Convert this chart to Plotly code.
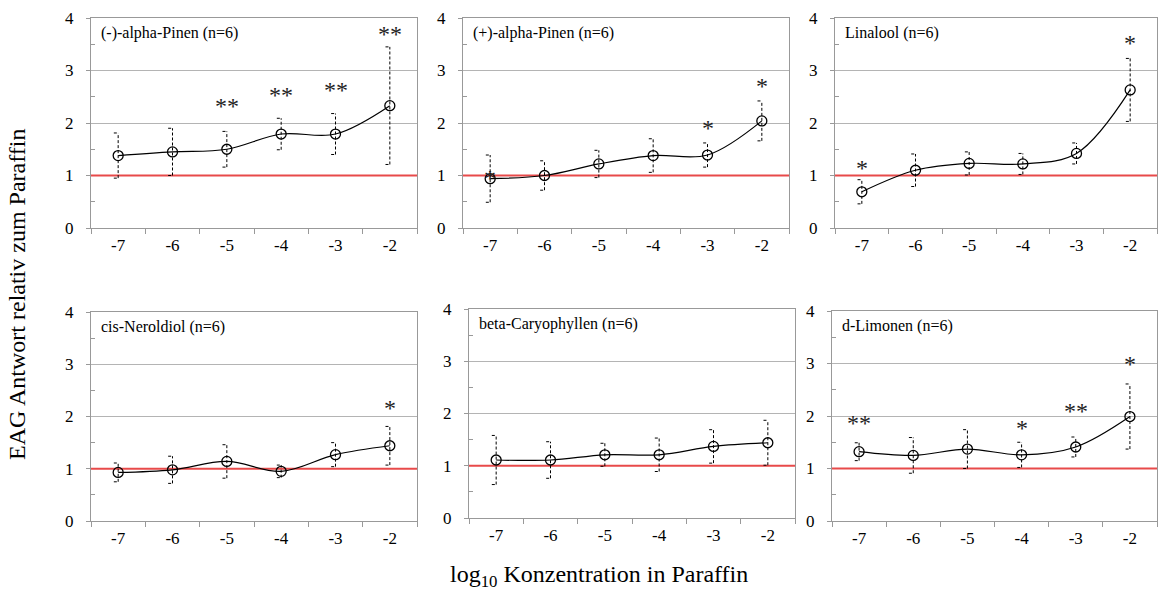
import plotly.graph_objects as go

conc = [-7, -6, -5, -4, -3, -2]
tick_labels = ["-7", "-6", "-5", "-4", "-3", "-2"]

names = ["(-)-alpha-Pinen (n=6)", "(+)-alpha-Pinen (n=6)", "Linalool (n=6)",
         "cis-Neroldiol (n=6)", "beta-Caryophyllen (n=6)", "d-Limonen (n=6)"]

mean_a_pinen_minus = [1.38, 1.45, 1.50, 1.79, 1.79, 2.33]
sd_a_pinen_minus = [0.43, 0.45, 0.34, 0.30, 0.39, 1.12]
mean_a_pinen_plus = [0.94, 1.00, 1.22, 1.38, 1.39, 2.04]
sd_a_pinen_plus = [0.45, 0.28, 0.26, 0.32, 0.23, 0.38]
mean_linalool = [0.69, 1.10, 1.23, 1.22, 1.42, 2.63]
sd_linalool = [0.23, 0.31, 0.22, 0.20, 0.20, 0.60]
mean_neroldiol = [0.93, 0.98, 1.14, 0.95, 1.27, 1.44]
sd_neroldiol = [0.18, 0.26, 0.32, 0.12, 0.23, 0.37]
mean_caryophyllen = [1.11, 1.11, 1.21, 1.21, 1.37, 1.44]
sd_caryophyllen = [0.47, 0.35, 0.22, 0.32, 0.32, 0.43]
mean_limonen = [1.32, 1.25, 1.37, 1.26, 1.41, 1.99]
sd_limonen = [0.17, 0.34, 0.37, 0.24, 0.19, 0.62]

# significance marks: (concentration, text, y position)
sig_a_pinen_minus = [(-5, "**", 2.35), (-4, "**", 2.55), (-3, "**", 2.65), (-2, "**", 3.71)]
sig_a_pinen_plus = [(-7, "*", 0.98), (-3, "*", 1.92), (-2, "*", 2.73)]
sig_linalool = [(-7, "*", 1.17), (-2, "*", 3.54)]
sig_neroldiol = [(-2, "*", 2.18)]
sig_caryophyllen = []
sig_limonen = [(-7, "**", 1.88), (-4, "*", 1.79), (-3, "**", 2.11), (-2, "*", 3.02)]

means = [mean_a_pinen_minus, mean_a_pinen_plus, mean_linalool,
         mean_neroldiol, mean_caryophyllen, mean_limonen]
sds = [sd_a_pinen_minus, sd_a_pinen_plus, sd_linalool,
       sd_neroldiol, sd_caryophyllen, sd_limonen]
sigs = [sig_a_pinen_minus, sig_a_pinen_plus, sig_linalool,
        sig_neroldiol, sig_caryophyllen, sig_limonen]

W, H = 1158, 592


def px(xp):
    return xp / W


def py(yp):
    return 1 - yp / H


# panel pixel boxes (left, right, top, bottom)
boxes = [(91, 417, 18, 228), (463, 789, 18, 228), (835, 1157, 18, 228),
         (91, 417, 312, 521), (469, 795, 309, 518), (832, 1157, 311, 521)]

FONT = "Liberation Serif"
fig = go.Figure()
layout = {}
annotations = []
cap = 0.08

for i in range(6):
    k = "" if i == 0 else str(i + 1)
    xa, ya = "x" + k, "y" + k
    m, s = means[i], sds[i]
    ex, ey = [], []
    for c, v, d in zip(conc, m, s):
        ex += [c, c, None, c - cap, c, None, c - cap, c, None]
        ey += [v - d, v + d, None, v + d, v + d, None, v - d, v - d, None]
    fig.add_trace(go.Scatter(x=[-7.5, -1.5], y=[1, 1], mode="lines", xaxis=xa, yaxis=ya,
                             line=dict(color="#e84a4a", width=2),
                             hoverinfo="skip", showlegend=False))
    fig.add_trace(go.Scatter(x=ex, y=ey, mode="lines", xaxis=xa, yaxis=ya,
                             line=dict(color="black", width=1, dash="3px,2px"),
                             hoverinfo="skip", showlegend=False))
    fig.add_trace(go.Scatter(x=conc, y=m, mode="lines+markers", xaxis=xa, yaxis=ya,
                             line=dict(color="black", width=1.2, shape="spline", smoothing=1),
                             marker=dict(symbol="circle-open", size=10,
                                         line=dict(color="black", width=1.3)),
                             showlegend=False))
    l, r, t, b = boxes[i]
    layout["xaxis" + k] = dict(
        domain=[px(l), px(r)], anchor=ya, range=[-7.5, -1.5],
        tickmode="array", tickvals=conc, ticktext=tick_labels, ticks="",
        ticklabelstandoff=2, automargin=False,
        tickfont=dict(family=FONT, size=17, color="black"),
        showgrid=False, zeroline=False,
        showline=True, linecolor="#999999", linewidth=1, mirror=True,
        minor=dict(tickmode="array", tickvals=[-7.5, -6.5, -5.5, -4.5, -3.5, -2.5, -1.5],
                   ticks="outside", ticklen=5, tickcolor="#999999", showgrid=False),
        fixedrange=True)
    layout["yaxis" + k] = dict(
        domain=[py(b), py(t)], anchor=xa, range=[0, 4],
        tickmode="array", tickvals=[0, 1, 2, 3, 4], ticks="outside", ticklen=4,
        tickcolor="#999999", ticklabelstandoff=9, automargin=False,
        tickfont=dict(family=FONT, size=17, color="black"),
        showgrid=True, gridcolor="#b4b4b4", gridwidth=1, zeroline=False,
        showline=True, linecolor="#999999", linewidth=1, mirror=True,
        minor=dict(tickmode="array", tickvals=[0.5, 1.5, 2.5, 3.5], ticks="inside",
                   ticklen=4, tickcolor="#999999", showgrid=False),
        fixedrange=True)
    annotations.append(dict(text=names[i], xref=xa + " domain", yref=ya + " domain",
                            x=0.025, y=0.93, xanchor="left", yanchor="middle",
                            showarrow=False, font=dict(family=FONT, size=16, color="black")))
    for c, txt, yy in sigs[i]:
        annotations.append(dict(text=txt, xref=xa, yref=ya, x=c, y=yy - 0.02,
                                xanchor="center", yanchor="middle", showarrow=False,
                                font=dict(family=FONT, size=24, color="#222222")))

annotations.append(dict(text="EAG Antwort relativ zum Paraffin", xref="paper", yref="paper",
                        x=px(17), y=py(295), xanchor="center", yanchor="middle",
                        textangle=-90, showarrow=False,
                        font=dict(family=FONT, size=24, color="black")))
annotations.append(dict(text="log<sub>10</sub> Konzentration in Paraffin", xref="paper",
                        yref="paper", x=px(599), y=py(576), xanchor="center",
                        yanchor="middle", showarrow=False,
                        font=dict(family=FONT, size=24, color="black")))

fig.update_layout(width=W, height=H, margin=dict(l=0, r=0, t=0, b=0, autoexpand=False),
                  paper_bgcolor="white", plot_bgcolor="white",
                  annotations=annotations, **layout)
fig.write_html("out.html", config={"displayModeBar": False},
               post_script="document.body.style.margin='0';"
                           "document.body.style.overflow='hidden';")
